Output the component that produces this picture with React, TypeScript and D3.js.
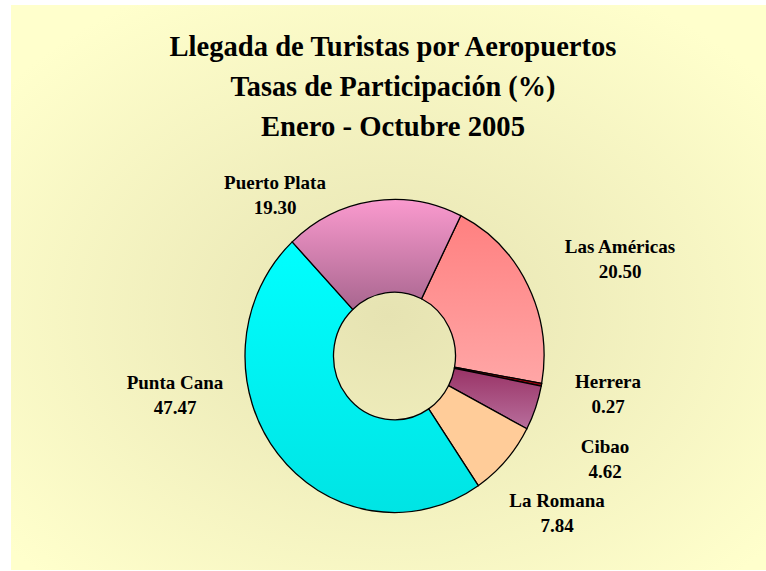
import React from "react";
import * as d3 from "d3";

const categories = ["Las Américas", "Herrera", "Cibao", "La Romana", "Punta Cana", "Puerto Plata"];
const values = [20.5, 0.27, 4.62, 7.84, 47.47, 19.3];
const valueLabels = ["20.50", "0.27", "4.62", "7.84", "47.47", "19.30"];
const colorsTop = ["#FF8080", "#8B0000", "#993366", "#FFCC99", "#00FFFF", "#FA9ACE"];
const colorsBottom = ["#FFA6A6", "#A00010", "#B86E9C", "#FFCC99", "#00E4E4", "#A8668F"];
const titleLines = ["Llegada de Turistas por Aeropuertos", "Tasas de Participación (%)", "Enero - Octubre 2005"];
const labelPos: [number, number][] = [
  [620, 253],
  [608, 388],
  [605, 453],
  [557, 507],
  [175, 389],
  [275, 189],
];

const W = 766;
const H = 571;
const cx = 394.5;
const cy = 356;
const rOuter = 149.5;
const rInner = 61;
const yScale = 1.047;
const startDeg = 26.3;

export default function App() {
  const pie = d3
    .pie<number>()
    .sort(null)
    .value((d) => d)
    .startAngle((startDeg * Math.PI) / 180)
    .endAngle((startDeg * Math.PI) / 180 + 2 * Math.PI);
  const arcs = pie(values);
  const arc = d3.arc<d3.PieArcDatum<number>>().innerRadius(rInner).outerRadius(rOuter);
  const font = "'Liberation Serif', 'Times New Roman', serif";
  const titleWidths = [447, 325, 264];
  return (
    <svg width={W} height={H} style={{ position: "absolute", left: 0, top: 0 }}>
      <defs>
        <radialGradient id="bg" cx="50%" cy="55%" r="65%">
          <stop offset="0%" stopColor="#E6E3B2" />
          <stop offset="100%" stopColor="#FFFFCC" />
        </radialGradient>
        {arcs.map((a, i) => (
          <linearGradient key={i} id={`g${i}`} x1="0" y1="0" x2="0" y2="1">
            <stop offset="0%" stopColor={colorsTop[i]} />
            <stop offset="100%" stopColor={colorsBottom[i]} />
          </linearGradient>
        ))}
      </defs>
      <rect x={0} y={0} width={W} height={H} fill="#FFFFFF" />
      <rect x={11} y={5} width={W - 11} height={H - 6} fill="url(#bg)" />
      {titleLines.map((t, i) => (
        <text
          key={i}
          x={393}
          y={56 + i * 40}
          textAnchor="middle"
          fontFamily={font}
          fontWeight="bold"
          fontSize={30}
          textLength={titleWidths[i]}
          lengthAdjust="spacingAndGlyphs"
          fill="#000"
        >
          {t}
        </text>
      ))}
      <g transform={`translate(${cx},${cy}) scale(1,${yScale})`}>
        {arcs.map((a, i) => (
          <path
            key={i}
            d={arc(a) || ""}
            fill={`url(#g${i})`}
            stroke="#000"
            strokeWidth={1.3}
            vectorEffect="non-scaling-stroke"
          />
        ))}
      </g>
      {categories.map((c, i) => (
        <g key={c}>
          <text
            x={labelPos[i][0]}
            y={labelPos[i][1]}
            textAnchor="middle"
            fontFamily={font}
            fontWeight="bold"
            fontSize={19}
            fill="#000"
          >
            {c}
          </text>
          <text
            x={labelPos[i][0]}
            y={labelPos[i][1] + 25}
            textAnchor="middle"
            fontFamily={font}
            fontWeight="bold"
            fontSize={19}
            fill="#000"
          >
            {valueLabels[i]}
          </text>
        </g>
      ))}
    </svg>
  );
}
